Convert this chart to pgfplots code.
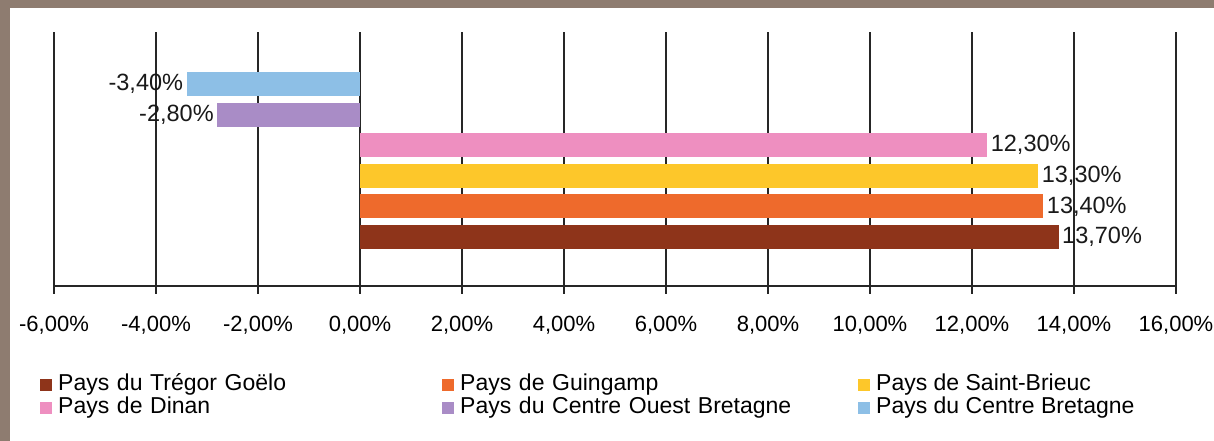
\documentclass[border=0pt]{standalone}
\usepackage{pgfplots}
\pgfplotsset{compat=1.18}
\usepackage{fontspec}
\setmainfont{Liberation Sans}

\definecolor{framec}{RGB}{142,124,112}
\definecolor{cbrown}{RGB}{142,52,26}
\definecolor{corange}{RGB}{238,106,44}
\definecolor{cyellow}{RGB}{253,199,42}
\definecolor{cpink}{RGB}{238,143,192}
\definecolor{cpurple}{RGB}{169,140,198}
\definecolor{cblue}{RGB}{141,191,230}

\begin{document}
\begin{tikzpicture}
% frame around the chart
\fill[framec] (0,0) rectangle (1214pt,441pt);
\fill[white] (10pt,0) rectangle (1214pt,433pt);

\begin{axis}[
    at={(54pt,155pt)}, anchor=south west,
    scale only axis,
    width=1122pt, height=254pt,
    xbar,
    bar width=0.78,
    xmin=-6, xmax=16,
    ymin=-0.6, ymax=7.7,
    xtick={-6,-4,...,16},
    axis x line*=bottom,
    axis y line=none,
    tick align=outside,
    major tick length=8pt,
    xmajorgrids,
    grid style={black!85, line width=1.5pt},
    axis line style={black!85, line width=1.5pt},
    tick style={black!85, line width=1.5pt},
    /pgf/number format/assume math mode=true,
    xticklabel={\pgfmathprintnumber[fixed,zerofill,precision=2,use comma]{\tick}\%},
    xticklabel style={font=\fontsize{22pt}{26pt}\selectfont, yshift=-19pt},
    nodes near coords={\pgfmathprintnumber[fixed,zerofill,precision=2,use comma]{\pgfplotspointmeta}\%},
    nodes near coords align={horizontal},
    every node near coord/.append style={font=\fontsize{23.5pt}{27pt}\selectfont, text=black!90},
    legend columns=3,
    legend cell align=left,
    legend image code/.code={\fill[#1] (0pt,-6pt) rectangle (12pt,6pt);},
    legend style={
        draw=none, fill=none,
        at={(-0.0125,-0.346)}, anchor=north west,
        inner sep=0pt,
        font=\fontsize{23pt}{27pt}\selectfont,
        nodes={inner xsep=0pt, inner ysep=0pt, text height=16pt, text depth=5pt},
        row sep=2pt,
        /tikz/every odd column/.append style={column sep=6pt},
        /tikz/column 2/.style={column sep=10pt, nodes={text width=374pt}},
        /tikz/column 4/.style={column sep=10pt, nodes={text width=388pt}},
    },
]
\addplot[fill=cbrown, draw=none, bar shift=0pt] coordinates {(13.7,1)};
\addplot[fill=corange, draw=none, bar shift=0pt] coordinates {(13.4,2)};
\addplot[fill=cyellow, draw=none, bar shift=0pt] coordinates {(13.3,3)};
\addplot[fill=cpink, draw=none, bar shift=0pt] coordinates {(12.3,4)};
\addplot[fill=cpurple, draw=none, bar shift=0pt] coordinates {(-2.8,5)};
\addplot[fill=cblue, draw=none, bar shift=0pt] coordinates {(-3.4,6)};
\legend{Pays du Trégor Goëlo, Pays de Guingamp, Pays de Saint-Brieuc,
        Pays de Dinan, Pays du Centre Ouest Bretagne, Pays du Centre Bretagne}
\end{axis}

\pgfresetboundingbox
\path[use as bounding box] (0,0) rectangle (1214pt,441pt);
\end{tikzpicture}
\end{document}
